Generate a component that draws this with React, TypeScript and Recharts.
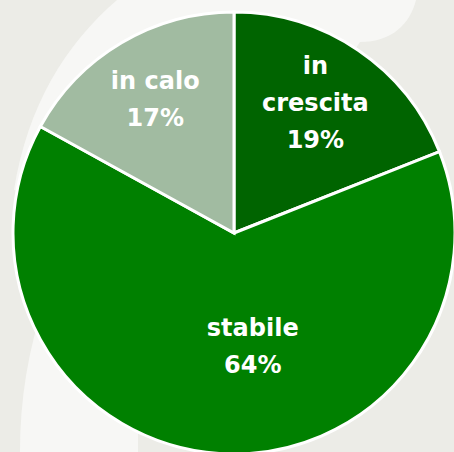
import { PieChart, Pie, Cell } from 'recharts';

const categories = ['in crescita', 'stabile', 'in calo'];
const shares = [19, 64, 17];
const sliceColors = ['#006400', '#008000', '#a1bba1'];

const data = categories.map((name, i) => ({ name, value: shares[i] }));

const RAD = Math.PI / 180;

// the big slice's label sits lower and a bit right of its mid-angle
const labelShift: Record<number, { r: number; da: number }> = {
  0: { r: 0.695, da: 2.2 },
  1: { r: 0.52, da: 13 },
  2: { r: 0.7, da: 0 },
};

function renderLabel(props: any) {
  const { cx, cy, midAngle, outerRadius, index, name, value } = props;
  const s = labelShift[index];
  const a = (midAngle + s.da) * RAD;
  const x = cx + outerRadius * s.r * Math.cos(a);
  const y = cy - outerRadius * s.r * Math.sin(a);
  const lines = name === 'in crescita' ? ['in', 'crescita'] : [name];
  lines.push(`${value}%`);
  const lh = 37;
  const y0 = y - ((lines.length - 1) * lh) / 2;
  return (
    <text
      key={index}
      x={x}
      y={y0}
      fill="#fff"
      textAnchor="middle"
      dominantBaseline="central"
      fontFamily="DejaVu Sans"
      fontWeight="bold"
      fontSize={24}
    >
      {lines.map((t, j) => (
        <tspan key={j} x={x} y={y0 + j * lh} dominantBaseline="central">
          {t}
        </tspan>
      ))}
    </text>
  );
}

export default function App() {
  return (
    <div style={{ position: 'absolute', left: 0, top: 0, width: 454, height: 452, background: '#ecece7', overflow: 'hidden' }}>
      <svg width={454} height={452} style={{ position: 'absolute', left: 0, top: 0 }}>
        <path
          d="M 117 0 C 65 45, 28 105, 14 190 L 234 233 L 360 42 C 392 42, 410 24, 416 0 Z"
          fill="#f7f7f5"
        />
        <path
          d="M 45 300 C 28 350, 20 400, 20 452 L 138 452 L 138 420 L 100 380 Z"
          fill="#f7f7f5"
        />
      </svg>
      <div style={{ position: 'absolute', left: 0, top: 0 }}>
        <PieChart width={454} height={452}>
          <Pie
            data={data}
            dataKey="value"
            nameKey="name"
            cx={229}
            cy={228}
            outerRadius={221}
            startAngle={90}
            endAngle={-270}
            stroke="#ffffff"
            strokeWidth={3}
            label={renderLabel}
            labelLine={false}
            isAnimationActive={false}
          >
            {data.map((d, i) => (
              <Cell key={d.name} fill={sliceColors[i]} />
            ))}
          </Pie>
        </PieChart>
      </div>
    </div>
  );
}
